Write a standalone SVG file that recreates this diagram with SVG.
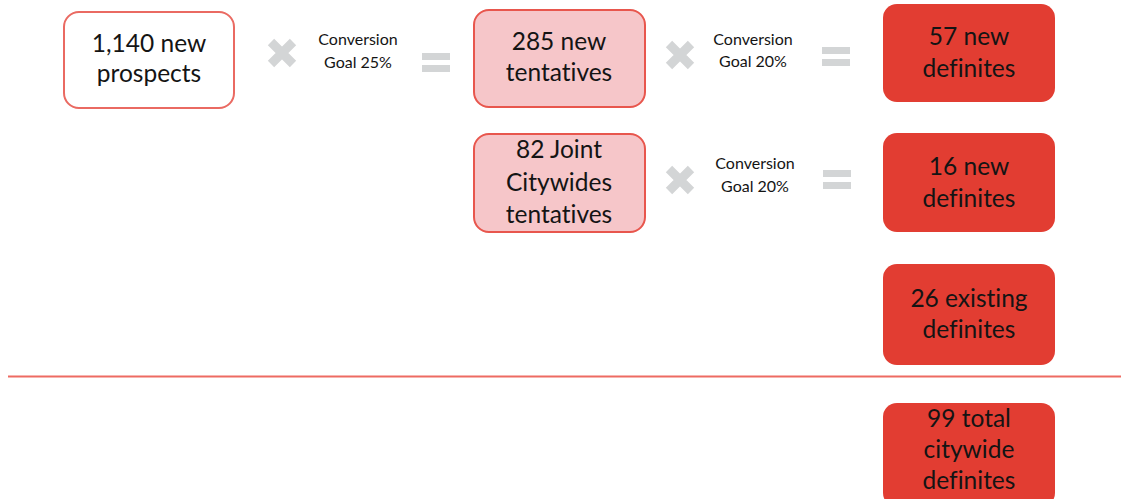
<svg xmlns="http://www.w3.org/2000/svg" width="1121" height="499" viewBox="0 0 1121 499">
<style>
.t{font-family:Lato,"Liberation Sans",sans-serif;font-size:24.5px;fill:#141414;text-anchor:middle;font-variant-ligatures:none}
.s{font-family:Lato,"Liberation Sans",sans-serif;font-size:16px;fill:#141414;text-anchor:middle;font-variant-ligatures:none}
.w{fill:#fff;stroke:#ea6a62;stroke-width:2}
.p{fill:#f6c6c9;stroke:#e8564d;stroke-width:2}
.r{fill:#e23d32}
.x{stroke:#d3d5d6;stroke-width:9}
.e{fill:#d3d5d6}
</style>
<defs>
<g id="times"><path class="x" d="M-11,-11L11,11M11,-11L-11,11"/></g>
<g id="eq"><rect class="e" x="0" y="0" width="28" height="7"/><rect class="e" x="0" y="12" width="28" height="7"/></g>
</defs>
<g id="n1"><rect class="w" x="64" y="12" width="170" height="96" rx="15"/><text class="t" x="149" y="52">1,140 new</text><text class="t" x="149" y="82">prospects</text></g>
<g id="op1"><use href="#times" x="282" y="53"/><text class="s" x="358" y="45">Conversion</text><text class="s" x="358" y="68">Goal 25%</text><use href="#eq" x="422" y="53"/></g>
<g id="n2"><rect class="p" x="474" y="10" width="171" height="97" rx="15"/><text class="t" x="559" y="50">285 new</text><text class="t" x="559" y="81">tentatives</text></g>
<g id="op2"><use href="#times" x="680" y="55"/><text class="s" x="753" y="45">Conversion</text><text class="s" x="753" y="67">Goal 20%</text><use href="#eq" x="822" y="47"/></g>
<g id="n3"><rect class="r" x="883" y="4" width="172" height="98" rx="14"/><text class="t" x="969" y="45">57 new</text><text class="t" x="969" y="77">definites</text></g>
<g id="n4"><rect class="p" x="474" y="134" width="171" height="98" rx="15"/><text class="t" x="559" y="158">82 Joint</text><text class="t" x="559" y="191">Citywides</text><text class="t" x="559" y="223">tentatives</text></g>
<g id="op3"><use href="#times" x="680" y="180"/><text class="s" x="755" y="169">Conversion</text><text class="s" x="755" y="192">Goal 20%</text><use href="#eq" x="823" y="170"/></g>
<g id="n5"><rect class="r" x="883" y="133" width="172" height="99" rx="14"/><text class="t" x="969" y="175">16 new</text><text class="t" x="969" y="207">definites</text></g>
<g id="n6"><rect class="r" x="883" y="264" width="172" height="101" rx="14"/><text class="t" x="969" y="307">26 existing</text><text class="t" x="969" y="338">definites</text></g>
<g id="connectors"><line x1="8" y1="376.5" x2="1121" y2="376.5" stroke="#ee6b62" stroke-width="2"/></g>
<g id="n7"><rect class="r" x="883" y="403" width="172" height="104" rx="14"/><text class="t" x="969" y="427">99 total</text><text class="t" x="969" y="458">citywide</text><text class="t" x="969" y="489">definites</text></g>
</svg>
